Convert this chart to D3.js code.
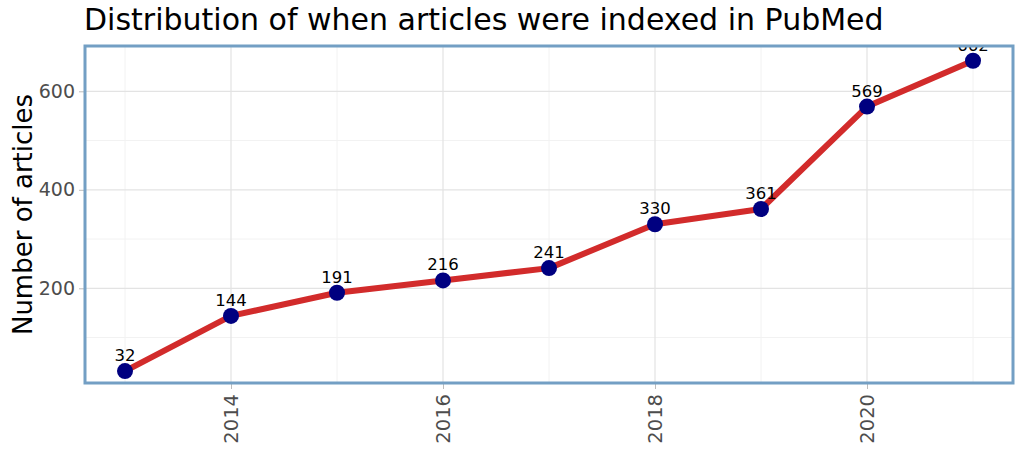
<!DOCTYPE html>
<html>
<head>
<meta charset="utf-8">
<script src="https://cdn.jsdelivr.net/npm/d3@7"></script>
<style>
  body { margin: 0; background: #fff; }
  svg { display: block; font-family: "DejaVu Sans", sans-serif; }
</style>
</head>
<body>
<svg id="chart" width="1024" height="455"></svg>
<script>
// data
const years = [2013, 2014, 2015, 2016, 2017, 2018, 2019, 2020, 2021];
const counts = [32, 144, 191, 216, 241, 330, 361, 569, 662];
const yTicks = [200, 400, 600];
const yMinor = [100, 300, 500];
const xTicks = [2014, 2016, 2018, 2020];
const xMinor = [2013, 2015, 2017, 2019, 2021];

const data = years.map((y, i) => ({ year: y, n: counts[i] }));

const svg = d3.select("#chart");
const panel = { left: 85, right: 1013, top: 46, bottom: 383 };

const x = d3.scaleLinear().domain([2013, 2021]).range([125, 973]);
const y = d3.scaleLinear().domain([0, 600]).range([386.8, 91.3]);

svg.append("clipPath").attr("id", "panelClip")
  .append("rect")
  .attr("x", panel.left).attr("y", panel.top)
  .attr("width", panel.right - panel.left).attr("height", panel.bottom - panel.top);

// grid
const grid = svg.append("g");
grid.selectAll(".hmin").data(yMinor).enter().append("line")
  .attr("x1", panel.left).attr("x2", panel.right)
  .attr("y1", d => y(d)).attr("y2", d => y(d))
  .attr("stroke", "#f2f2f2").attr("stroke-width", 1);
grid.selectAll(".vmin").data(xMinor).enter().append("line")
  .attr("y1", panel.top).attr("y2", panel.bottom)
  .attr("x1", d => x(d)).attr("x2", d => x(d))
  .attr("stroke", "#f2f2f2").attr("stroke-width", 1);
grid.selectAll(".hmaj").data(yTicks).enter().append("line")
  .attr("x1", panel.left).attr("x2", panel.right)
  .attr("y1", d => y(d)).attr("y2", d => y(d))
  .attr("stroke", "#e3e3e3").attr("stroke-width", 1.2);
grid.selectAll(".vmaj").data(xTicks).enter().append("line")
  .attr("y1", panel.top).attr("y2", panel.bottom)
  .attr("x1", d => x(d)).attr("x2", d => x(d))
  .attr("stroke", "#e3e3e3").attr("stroke-width", 1.2);

// axes
const yAxis = svg.append("g")
  .attr("transform", `translate(${panel.left - 1},0)`)
  .call(d3.axisLeft(y).tickValues(yTicks).tickSize(5).tickPadding(4));
yAxis.select(".domain").remove();
yAxis.selectAll("line").attr("stroke", "#bdbdbd");
yAxis.selectAll("text").attr("fill", "#4d4d4d").style("font-size", "19px")
  .style("font-family", "DejaVu Sans");

const xAxis = svg.append("g")
  .attr("transform", `translate(0,${panel.bottom + 1})`)
  .call(d3.axisBottom(x).tickValues(xTicks).tickFormat(d3.format("d")).tickSize(5));
xAxis.select(".domain").remove();
xAxis.selectAll("line").attr("stroke", "#bdbdbd");
xAxis.selectAll("text")
  .attr("fill", "#4d4d4d")
  .style("font-size", "19.5px")
  .style("font-family", "DejaVu Sans")
  .attr("transform", "rotate(-90)")
  .attr("x", -10).attr("y", 0).attr("dy", "0.35em")
  .style("text-anchor", "end");

// line + points
const plot = svg.append("g").attr("clip-path", "url(#panelClip)");
plot.append("path")
  .datum(data)
  .attr("fill", "none")
  .attr("stroke", "#d22b2b")
  .attr("stroke-width", 6)
  .attr("stroke-linejoin", "round")
  .attr("d", d3.line().x(d => x(d.year)).y(d => y(d.n)));

plot.selectAll(".pt").data(data).enter().append("circle")
  .attr("cx", d => x(d.year)).attr("cy", d => y(d.n))
  .attr("r", 8).attr("fill", "#000080");

plot.selectAll(".lbl").data(data).enter().append("text")
  .attr("x", d => x(d.year)).attr("y", d => y(d.n) - 10)
  .attr("text-anchor", "middle")
  .style("font-size", "16.5px")
  .attr("fill", "#000")
  .text(d => d.n);

// panel border
svg.append("rect")
  .attr("x", panel.left).attr("y", panel.top)
  .attr("width", panel.right - panel.left).attr("height", panel.bottom - panel.top)
  .attr("fill", "none").attr("stroke", "#739fc4").attr("stroke-width", 3);

// titles
svg.append("text")
  .attr("x", 84).attr("y", 30)
  .style("font-size", "30px")
  .attr("fill", "#000")
  .text("Distribution of when articles were indexed in PubMed");

svg.append("text")
  .attr("transform", `translate(32,${(panel.top + panel.bottom) / 2 + 0}) rotate(-90)`)
  .attr("text-anchor", "middle")
  .style("font-size", "26px")
  .attr("fill", "#000")
  .text("Number of articles");
</script>
</body>
</html>
